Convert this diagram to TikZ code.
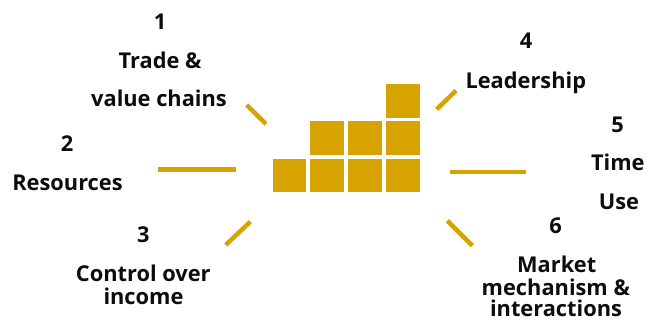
\documentclass[tikz,border=0pt]{standalone}
\usepackage{fontspec}
\setmainfont{Open Sans}
\usepackage{tikz}
\definecolor{gold}{RGB}{215,163,0}
\tikzset{
  lbl/.style = {anchor=base, inner sep=0pt, font=\fontsize{21.8}{24}\selectfont\bfseries, text=black!95},
  block/.style = {rectangle, fill=gold, inner sep=0pt, minimum size=33.5pt},
  tick/.style = {draw=gold, line width=4.5pt},
}

\begin{document}
\begin{tikzpicture}[x=1pt, y=-1pt]
\useasboundingbox (0,0) rectangle (659,323);

% blocks
\node [block] (b11) at (289.5,175.7) {};
\node [block] (b12) at (326.8,175.7) {};
\node [block] (b13) at (364.8,175.7) {};
\node [block] (b14) at (403,175.7) {};
\node [block] (b22) at (326.8,137.8) {};
\node [block] (b23) at (364.8,137.8) {};
\node [block] (b24) at (403,137.8) {};
\node [block] (b34) at (403,100.8) {};

% labels
\node [lbl] (n1) at (160,29.3) {1};
\node [lbl] (t1a) at (160,68.3) {Trade \&};
\node [lbl] (t1b) at (159,106.7) {value chains};
\node [lbl] (n2) at (67,151.7) {2};
\node [lbl] (t2) at (67.5,191) {Resources};
\node [lbl] (n3) at (143.3,242.3) {3};
\node [lbl] (t3a) at (143.3,281.7) {Control over};
\node [lbl] (t3b) at (143.5,305) {income};
\node [lbl] (n4) at (526,48.3) {4};
\node [lbl] (t4) at (525.8,88.3) {Leadership};
\node [lbl] (n5) at (617.7,132.3) {5};
\node [lbl] (t5a) at (617.8,170.7) {Time};
\node [lbl] (t5b) at (619,210) {Use};
\node [lbl] (n6) at (555.7,233.3) {6};
\node [lbl] (t6a) at (556.7,272.3) {Market};
\node [lbl] (t6b) at (555.8,295) {mechanism \&};
\node [lbl] (t6c) at (556,316.7) {interactions};

% ticks
\coordinate (a1) at (246.7,105);   \coordinate (e1) at (266,124);
\coordinate (a2) at (158,169.5);   \coordinate (e2) at (236,169.5);
\coordinate (a3) at (225.7,245);   \coordinate (e3) at (250.3,221.7);
\coordinate (a4) at (436.7,109.3); \coordinate (e4) at (456,90.7);
\coordinate (a5) at (450,172);     \coordinate (e5) at (526,172);
\coordinate (a6) at (447.3,220.7); \coordinate (e6) at (472.3,245.7);
\draw [tick] (a1) -- (e1);
\draw [tick] (a2) -- (e2);
\draw [tick] (a3) -- (e3);
\draw [tick] (a4) -- (e4);
\draw [tick] (a5) -- (e5);
\draw [tick] (a6) -- (e6);
\end{tikzpicture}
\end{document}
